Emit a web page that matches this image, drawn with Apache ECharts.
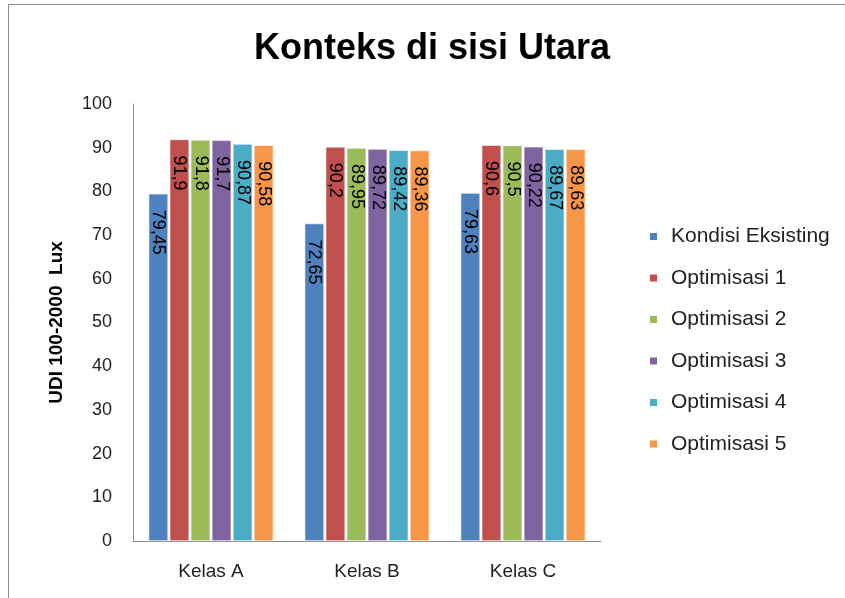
<!DOCTYPE html>
<html>
<head>
<meta charset="utf-8">
<script src="https://cdn.jsdelivr.net/npm/echarts@6/dist/echarts.min.js"></script>
<style>
  html, body { margin: 0; padding: 0; background: #fff; }
  #chart { width: 845px; height: 598px; }
</style>
</head>
<body>
<div id="chart"></div>
<script>
// Data
const categories = ['Kelas A', 'Kelas B', 'Kelas C']
const seriesNames = ['Kondisi Eksisting', 'Optimisasi 1', 'Optimisasi 2', 'Optimisasi 3', 'Optimisasi 4', 'Optimisasi 5']
const kondisiEksisting = [79.45, 72.65, 79.63]
const optimisasi1 = [91.9, 90.2, 90.6]
const optimisasi2 = [91.8, 89.95, 90.5]
const optimisasi3 = [91.7, 89.72, 90.22]
const optimisasi4 = [90.87, 89.42, 89.67]
const optimisasi5 = [90.58, 89.36, 89.63]
const yTicks = [0, 10, 20, 30, 40, 50, 60, 70, 80, 90, 100]

const seriesData = [kondisiEksisting, optimisasi1, optimisasi2, optimisasi3, optimisasi4, optimisasi5]
const colors = ['#4F81BD', '#C0504D', '#9BBB59', '#8064A2', '#4BACC6', '#F79646']
const font = '"Liberation Sans", Arial, sans-serif'

const chart = echarts.init(document.getElementById('chart'))

chart.setOption({
  animation: false,
  color: colors,
  textStyle: { fontFamily: font },
  title: {
    text: 'Konteks di sisi Utara',
    left: 427,
    textAlign: 'center',
    top: 26,
    textStyle: { fontSize: 36, fontWeight: 'bold', color: '#000', fontFamily: font }
  },
  graphic: [{
    type: 'rect',
    shape: { x: 8.5, y: 4.5, width: 900, height: 700 },
    style: { fill: 'none', stroke: '#8c8c8c', lineWidth: 1 },
    silent: true
  }],
  legend: {
    orient: 'vertical',
    left: 648,
    top: 226,
    padding: 0,
    itemWidth: 9,
    itemHeight: 9,
    itemGap: 20.5,
    icon: 'rect',
    textStyle: { fontSize: 21, color: '#222', fontFamily: font, padding: [0, 0, 0, 8] },
    data: seriesNames
  },
  grid: { left: 133, right: 244, top: 104, bottom: 57 },
  xAxis: {
    type: 'category',
    data: categories,
    axisLine: { lineStyle: { color: '#8c8c8c' } },
    axisTick: { show: false },
    axisLabel: { fontSize: 19, color: '#222', margin: 21 }
  },
  yAxis: {
    type: 'value',
    min: yTicks[0],
    max: yTicks[yTicks.length - 1],
    interval: 10,
    name: 'UDI 100-2000  Lux',
    nameLocation: 'middle',
    nameGap: 67,
    nameTextStyle: { fontSize: 19, fontWeight: 'bold', color: '#000' },
    axisLine: { show: true, lineStyle: { color: '#8c8c8c' } },
    axisTick: { show: false },
    splitLine: { show: false },
    axisLabel: { fontSize: 18, color: '#222', margin: 21 }
  },
  series: seriesNames.map((name, i) => ({
    name: name,
    type: 'bar',
    data: seriesData[i],
    barCategoryGap: '20%',
    barGap: '8%',
    itemStyle: { borderColor: '#fff', borderWidth: 0.6 },
    label: {
      show: true,
      position: 'insideTop',
      rotate: -90,
      align: 'left',
      verticalAlign: 'middle',
      distance: 16,
      fontSize: 18,
      color: '#000',
      formatter: p => String(p.value).replace('.', ',')
    }
  }))
})
</script>
</body>
</html>
